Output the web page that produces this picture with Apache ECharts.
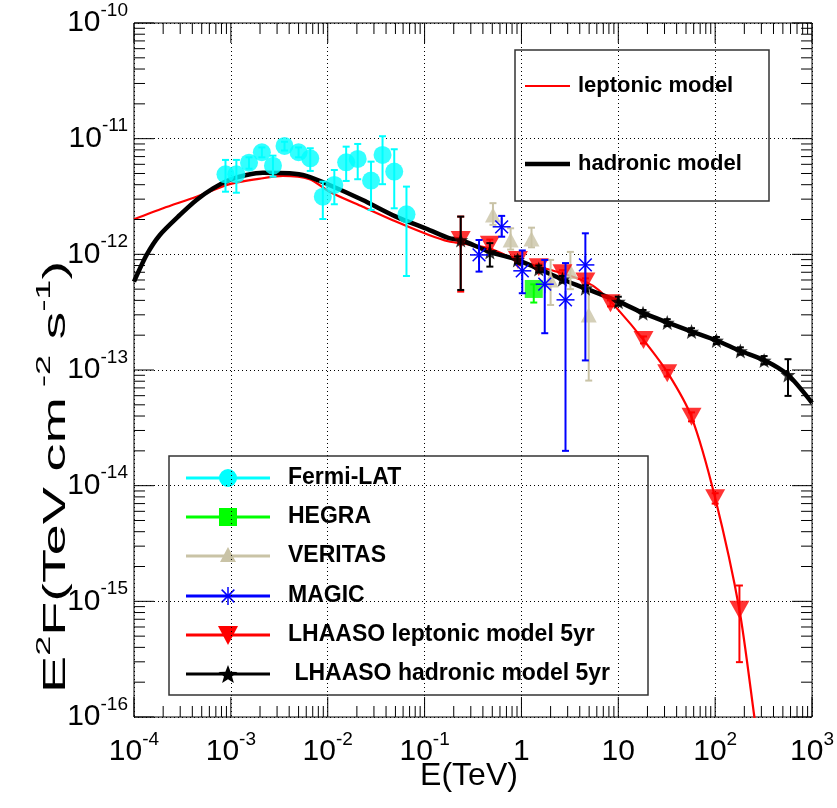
<!DOCTYPE html>
<html><head><meta charset="utf-8">
<script src="https://cdn.jsdelivr.net/npm/echarts@6/dist/echarts.min.js"></script>
<style>html,body{margin:0;padding:0;background:#fff}#c{width:837px;height:808px}</style>
</head><body><div id="c"></div>
<script>
// ---------- data (E in TeV, E^2F in TeV cm^-2 s^-1) ----------
const fermiE  = [8.8e-4, 1.14e-3, 1.54e-3, 2.09e-3, 2.72e-3, 3.58e-3, 5.0e-3, 6.6e-3, 8.9e-3, 1.17e-2, 1.55e-2, 2.04e-2, 2.8e-2, 3.68e-2, 4.86e-2, 6.5e-2];
const fermiF  = [4.92e-12, 4.92e-12, 6.2e-12, 7.63e-12, 5.84e-12, 8.65e-12, 7.63e-12, 6.77e-12, 3.15e-12, 3.98e-12, 6.25e-12, 6.68e-12, 4.34e-12, 7.23e-12, 5.19e-12, 2.22e-12];
const fermiHi = [6.55e-12, 6.55e-12, 6.9e-12, 8.4e-12, 7.13e-12, 9.4e-12, 8.4e-12, 8.26e-12, 4.25e-12, 5.36e-12, 8.53e-12, 9.0e-12, 6.33e-12, 1.05e-11, 8.1e-12, 3.85e-12];
const fermiLo = [3.48e-12, 3.41e-12, 5.5e-12, 6.9e-12, 4.69e-12, 7.9e-12, 6.9e-12, 5.26e-12, 2.02e-12, 2.71e-12, 4.31e-12, 4.46e-12, 2.42e-12, 4.04e-12, 2.50e-12, 6.5e-13];

const hegraE  = [1.34];
const hegraF  = [5.02e-13];
const hegraHi = [5.5e-13];
const hegraLo = [3.83e-13];

const veritasE  = [0.508, 0.773, 1.27, 2.0, 3.2, 4.95];
const veritasF  = [2.19e-12, 1.33e-12, 1.36e-12, 6.0e-13, 7.1e-13, 2.99e-13];
const veritasHi = [2.77e-12, 1.68e-12, 1.7e-12, 8.95e-13, 1.05e-12, 5.26e-13];
const veritasLo = [1.8e-12, 1.1e-12, 1.15e-12, 3.65e-13, 5.0e-13, 8.1e-14];

const magicE  = [0.365, 0.625, 1.02, 1.74, 2.85, 4.57];
const magicF  = [9.88e-13, 1.73e-12, 7.2e-13, 5.52e-13, 4.04e-13, 8.1e-13];
const magicHi = [1.33e-12, 2.15e-12, 1.08e-12, 8.95e-13, 8.4e-13, 1.52e-12];
const magicLo = [7.09e-13, 1.42e-12, 4.61e-13, 2.08e-13, 2.0e-14, 1.21e-13];

const lhLepE  = [0.236, 0.472, 0.92, 1.51, 2.65, 4.57, 8.3, 18.2, 32, 57, 100, 178];
const lhLepF  = [1.33e-12, 1.21e-12, 8.95e-13, 7.74e-13, 6.87e-13, 5.81e-13, 3.78e-13, 1.82e-13, 9.38e-14, 3.95e-14, 7.8e-15, 8.45e-16];
const lhLepHi = [2.12e-12, 1.34e-12, 9.6e-13, 8.2e-13, 7.3e-13, 6.2e-13, 4.0e-13, 1.95e-13, 1.0e-13, 4.3e-14, 8.6e-15, 1.37e-15];
const lhLepLo = [4.76e-13, 1.1e-12, 8.4e-13, 7.3e-13, 6.5e-13, 5.4e-13, 3.55e-13, 1.7e-13, 8.8e-14, 3.6e-14, 7.0e-15, 2.98e-16];

const lhHadE  = [0.236, 0.472, 0.91, 1.51, 2.65, 4.57, 10.0, 18, 32, 57, 103, 182, 320, 565];
const lhHadF  = [1.33e-12, 1.05e-12, 8.95e-13, 7.48e-13, 6.09e-13, 5.09e-13, 3.9e-13, 3.1e-13, 2.57e-13, 2.15e-13, 1.80e-13, 1.46e-13, 1.21e-13, 9.07e-14];
const lhHadHi = [2.12e-12, 1.25e-12, 9.6e-13, 8.0e-13, 6.5e-13, 5.4e-13, 4.3e-13, 3.3e-13, 2.75e-13, 2.3e-13, 1.93e-13, 1.57e-13, 1.32e-13, 1.24e-13];
const lhHadLo = [4.92e-13, 7.83e-13, 8.3e-13, 7.0e-13, 5.7e-13, 4.8e-13, 3.6e-13, 2.9e-13, 2.4e-13, 2.0e-13, 1.68e-13, 1.36e-13, 1.12e-13, 5.97e-14];

const lepModelE = [1e-4, 2.0e-4, 4.42e-4, 9.7e-4, 2.14e-3, 3.44e-3, 6.49e-3, 1.04e-2, 2.30e-2, 5.06e-2, 0.111, 0.179, 0.236, 0.472, 1.0, 2.6, 4.57, 6.27, 10, 18.2, 32.4, 56.9, 100, 178, 254, 282];
const lepModelF = [2.01e-12, 2.5e-12, 3.15e-12, 4.05e-12, 4.55e-12, 4.76e-12, 4.46e-12, 3.48e-12, 2.58e-12, 1.92e-12, 1.47e-12, 1.29e-12, 1.25e-12, 1.12e-12, 8.6e-13, 6.9e-13, 5.8e-13, 4.92e-13, 3.31e-13, 1.82e-13, 9.44e-14, 3.94e-14, 7.83e-15, 8.45e-16, 1.0e-16, 5.2e-17];

const hadModelE = [1e-4, 1.35e-4, 1.85e-4, 2.98e-4, 4.42e-4, 6.55e-4, 9.7e-4, 1.45e-3, 2.14e-3, 4.04e-3, 6.0e-3, 1.04e-2, 2.30e-2, 5.06e-2, 0.111, 0.179, 0.236, 0.473, 0.904, 1.51, 2.62, 4.57, 10.1, 18.2, 32.4, 57.3, 103, 183, 326, 566, 1000];
const hadModelF = [5.81e-13, 9.89e-13, 1.47e-12, 2.19e-12, 2.95e-12, 3.72e-12, 4.40e-12, 4.85e-12, 5.08e-12, 5.02e-12, 4.76e-12, 3.98e-12, 2.95e-12, 2.12e-12, 1.63e-12, 1.38e-12, 1.33e-12, 1.05e-12, 8.95e-13, 7.48e-13, 6.09e-13, 5.09e-13, 3.9e-13, 3.1e-13, 2.57e-13, 2.15e-13, 1.80e-13, 1.46e-13, 1.21e-13, 9.07e-14, 5.2e-14];

const xTickLabels = ['10^-4', '10^-3', '10^-2', '10^-1', '1', '10', '10^2', '10^3'];
const yTickLabels = ['10^-16', '10^-15', '10^-14', '10^-13', '10^-12', '10^-11', '10^-10'];

// ---------- styling ----------
const FF = '"Liberation Sans", Arial, Helvetica, sans-serif';
const C_FERMI = '#00ffff', C_HEGRA = '#00ff00', C_VER = '#c9c3a6', C_MAGIC = '#0000ff', C_RED = '#ff0000', C_BLK = '#000000';
const STAR = 'path://M0,-10L2.6,-3.2L9.5,-3.1L4,1.4L5.9,8.1L0,4.2L-5.9,8.1L-4,1.4L-9.5,-3.1L-2.6,-3.2Z';
const GRID = {left: 134, top: 23, right: 23, bottom: 91};

function pairs(E, F) { return E.map((e, i) => [e, F[i]]); }
function tickText(s) {
  const parts = s.split('^');
  return parts.length === 1 ? '{b|' + parts[0] + '}' : '{b|' + parts[0] + '}{s|' + parts[1] + '}';
}
function labelFor(list, v) {
  const e = Math.round(Math.log10(v));
  const found = list.find(t => (t.indexOf('^') < 0 ? Math.round(Math.log10(+t)) : +t.split('^')[1]) === e);
  return found ? tickText(found) : '';
}
const richTick = {
  b: {fontFamily: FF, fontSize: 30, color: '#000', lineHeight: 44, verticalAlign: 'middle'},
  s: {fontFamily: FF, fontSize: 19, color: '#000', lineHeight: 20, verticalAlign: 'top'}
};

function errSeries(name, E, lo, hi, color, width, cap, z) {
  return {
    type: 'custom', name: name, silent: true, z: z,
    data: E.map((e, i) => [e, lo[i], hi[i]]),
    encode: {x: 0, y: [1, 2]},
    renderItem: function (params, api) {
      const x = api.value(0);
      const p1 = api.coord([x, api.value(2)]);
      const p2 = api.coord([x, api.value(1)]);
      const st = {stroke: color, lineWidth: width};
      return {type: 'group', children: [
        {type: 'line', shape: {x1: p1[0], y1: p1[1], x2: p2[0], y2: p2[1]}, style: st},
        {type: 'line', shape: {x1: p1[0] - cap, y1: p1[1], x2: p1[0] + cap, y2: p1[1]}, style: st},
        {type: 'line', shape: {x1: p2[0] - cap, y1: p2[1], x2: p2[0] + cap, y2: p2[1]}, style: st}
      ]};
    }
  };
}
function asteriskChildren(cx, cy, r, color, w) {
  const d = r * 0.7071;
  const st = {stroke: color, lineWidth: w};
  return [
    {type: 'line', shape: {x1: cx, y1: cy - r, x2: cx, y2: cy + r}, style: st},
    {type: 'line', shape: {x1: cx - r, y1: cy, x2: cx + r, y2: cy}, style: st},
    {type: 'line', shape: {x1: cx - d, y1: cy - d, x2: cx + d, y2: cy + d}, style: st},
    {type: 'line', shape: {x1: cx - d, y1: cy + d, x2: cx + d, y2: cy - d}, style: st}
  ];
}

// tick positions (axis decoration): decades + 2..9 within each decade
const xTickVals = [], yTickVals = [];
for (let d = -4; d <= 3; d++) for (let k = 1; k <= 9; k++) { const v = k * Math.pow(10, d); if (v <= 1000.0001) xTickVals.push([v, k === 1 ? 1 : 0]); }
for (let d = -16; d <= -10; d++) for (let k = 1; k <= 9; k++) { const v = k * Math.pow(10, d); if (d < -10 || k === 1) yTickVals.push([v, k === 1 ? 1 : 0]); }

const ticksX = {
  type: 'custom', silent: true, z: 50,
  data: xTickVals.map(t => [t[0], 1e-13, t[1]]),
  encode: {x: 0, y: 1},
  renderItem: function (params, api) {
    const cs = params.coordSys;
    const x = api.coord([api.value(0), 1e-13])[0];
    const len = api.value(2) ? 20 : 11;
    const st = {stroke: '#000', lineWidth: 1};
    return {type: 'group', children: [
      {type: 'line', shape: {x1: x, y1: cs.y + cs.height, x2: x, y2: cs.y + cs.height - len}, style: st},
      {type: 'line', shape: {x1: x, y1: cs.y, x2: x, y2: cs.y + len}, style: st}
    ]};
  }
};
const ticksY = {
  type: 'custom', silent: true, z: 50,
  data: yTickVals.map(t => [1, t[0], t[1]]),
  encode: {x: 0, y: 1},
  renderItem: function (params, api) {
    const cs = params.coordSys;
    const y = api.coord([1, api.value(1)])[1];
    const len = api.value(2) ? 20 : 11;
    const st = {stroke: '#000', lineWidth: 1};
    return {type: 'group', children: [
      {type: 'line', shape: {x1: cs.x, y1: y, x2: cs.x + len, y2: y}, style: st},
      {type: 'line', shape: {x1: cs.x + cs.width, y1: y, x2: cs.x + cs.width - len, y2: y}, style: st}
    ]};
  }
};

const magicMarks = {
  type: 'custom', name: 'MAGIC', silent: true, z: 12,
  data: pairs(magicE, magicF),
  encode: {x: 0, y: 1},
  renderItem: function (params, api) {
    const p = api.coord([api.value(0), api.value(1)]);
    return {type: 'group', children: asteriskChildren(p[0], p[1], 9, C_MAGIC, 1.5)};
  }
};

// ---------- legends (graphic decoration) ----------
const LG = 22, LG2 = 23;
const legTop = [
  {type: 'rect', shape: {x: 515, y: 50, width: 254, height: 151}, style: {fill: '#fff', stroke: '#333', lineWidth: 1.5}},
  {type: 'line', shape: {x1: 525, y1: 86, x2: 570, y2: 86}, style: {stroke: C_RED, lineWidth: 2}},
  {type: 'text', x: 578, y: 86, style: {text: 'leptonic model', font: 'bold ' + LG + 'px ' + FF, fill: '#000', textVerticalAlign: 'middle'}},
  {type: 'line', shape: {x1: 525, y1: 164, x2: 570, y2: 164}, style: {stroke: C_BLK, lineWidth: 4.5}},
  {type: 'text', x: 578, y: 164, style: {text: 'hadronic model', font: 'bold ' + LG + 'px ' + FF, fill: '#000', textVerticalAlign: 'middle'}}
];
const legRows = [
  {label: 'Fermi-LAT', color: C_FERMI, y: 478},
  {label: 'HEGRA', color: C_HEGRA, y: 517},
  {label: 'VERITAS', color: C_VER, y: 556},
  {label: 'MAGIC', color: C_MAGIC, y: 596},
  {label: 'LHAASO leptonic model 5yr', color: C_RED, y: 635},
  {label: ' LHAASO hadronic model 5yr', color: C_BLK, y: 674}
];
const legBottom = [{type: 'rect', shape: {x: 169, y: 456, width: 479, height: 239}, style: {fill: '#fff', stroke: '#333', lineWidth: 1.5}}];
legRows.forEach((r, i) => {
  legBottom.push({type: 'line', shape: {x1: 186, y1: r.y, x2: 270, y2: r.y}, style: {stroke: r.color, lineWidth: 3}});
  legBottom.push({type: 'text', x: 288, y: r.y, style: {text: r.label, font: 'bold ' + LG2 + 'px ' + FF, fill: '#000', textVerticalAlign: 'middle'}});
});
const mx = 228;
legBottom.push({type: 'circle', shape: {cx: mx, cy: 478, r: 9}, style: {fill: C_FERMI}});
legBottom.push({type: 'rect', shape: {x: mx - 9, y: 517 - 9, width: 18, height: 18}, style: {fill: C_HEGRA}});
legBottom.push({type: 'polygon', shape: {points: [[mx, 547], [mx - 8, 562], [mx + 8, 562]]}, style: {fill: C_VER}});
asteriskChildren(mx, 596, 9, C_MAGIC, 1.5).forEach(c => legBottom.push(c));
legBottom.push({type: 'polygon', shape: {points: [[mx - 10, 626], [mx + 10, 626], [mx, 645]]}, style: {fill: C_RED}});
legBottom.push({type: 'polygon', shape: {points: [[mx, 665], [mx + 2.6, 671.8], [mx + 9.5, 671.9], [mx + 4, 676.4], [mx + 5.9, 683], [mx, 679.2], [mx - 5.9, 683], [mx - 4, 676.4], [mx - 9.5, 671.9], [mx - 2.6, 671.8]]}, style: {fill: C_BLK}});

const chart = echarts.init(document.getElementById('c'));
chart.setOption({
  animation: false,
  backgroundColor: '#fff',
  grid: Object.assign({show: true, borderColor: '#000', borderWidth: 1, backgroundColor: '#fff'}, GRID),
  xAxis: {
    type: 'log', logBase: 10, min: 1e-4, max: 1e3, splitNumber: 7,
    axisLine: {show: false}, axisTick: {show: false},
    splitLine: {show: true, lineStyle: {color: '#000', width: 1, type: [1, 3]}},
    axisLabel: {margin: 13, showMinLabel: true, showMaxLabel: true, hideOverlap: false,
      formatter: v => labelFor(xTickLabels, v), rich: richTick}
  },
  yAxis: {
    type: 'log', logBase: 10, min: 1e-16, max: 1e-10, splitNumber: 6,
    axisLine: {show: false}, axisTick: {show: false},
    splitLine: {show: true, lineStyle: {color: '#000', width: 1, type: [1, 3]}},
    axisLabel: {margin: 6, showMinLabel: true, showMaxLabel: true, hideOverlap: false,
      formatter: v => labelFor(yTickLabels, v), rich: richTick}
  },
  series: [
    {type: 'line', name: 'leptonic model', data: pairs(lepModelE, lepModelF), symbol: 'none', smooth: 0.25, lineStyle: {color: C_RED, width: 2.2}, z: 3, silent: true},
    {type: 'line', name: 'hadronic model', data: pairs(hadModelE, hadModelF), symbol: 'none', smooth: 0.25, lineStyle: {color: C_BLK, width: 4.5}, z: 4, silent: true},
    errSeries('VERITAS err', veritasE, veritasLo, veritasHi, C_VER, 2, 3.5, 5),
    {type: 'scatter', name: 'VERITAS', data: pairs(veritasE, veritasF), symbol: 'triangle', symbolSize: [16, 15], itemStyle: {color: C_VER}, z: 6, silent: true},
    errSeries('LHAASO lep err', lhLepE, lhLepLo, lhLepHi, C_RED, 2, 3.5, 7),
    {type: 'scatter', name: 'LHAASO leptonic model 5yr', data: pairs(lhLepE, lhLepF), symbol: 'triangle', symbolRotate: 180, symbolSize: [20, 18], itemStyle: {color: C_RED}, z: 8, silent: true},
    errSeries('LHAASO had err', lhHadE, lhHadLo, lhHadHi, C_BLK, 2, 3.5, 9),
    {type: 'scatter', name: 'LHAASO hadronic model 5yr', data: pairs(lhHadE, lhHadF), symbol: STAR, symbolSize: 15, itemStyle: {color: C_BLK}, z: 10, silent: true},
    errSeries('HEGRA err', hegraE, hegraLo, hegraHi, C_HEGRA, 2, 3.5, 10),
    {type: 'scatter', name: 'HEGRA', data: pairs(hegraE, hegraF), symbol: 'rect', symbolSize: 18, itemStyle: {color: C_HEGRA}, z: 11, silent: true},
    errSeries('MAGIC err', magicE, magicLo, magicHi, C_MAGIC, 2, 3.5, 12),
    magicMarks,
    errSeries('Fermi err', fermiE, fermiLo, fermiHi, C_FERMI, 2, 3.5, 13),
    {type: 'scatter', name: 'Fermi-LAT', data: pairs(fermiE, fermiF), symbol: 'circle', symbolSize: 18, itemStyle: {color: C_FERMI}, z: 14, silent: true},
    ticksX, ticksY
  ],
  graphic: [
    {type: 'group', z: 100, children: legTop},
    {type: 'group', z: 100, children: legBottom},
    {type: 'text', z: 100, x: 469, y: 776, style: {text: 'E(TeV)', font: '32px ' + FF, fill: '#000', textAlign: 'center', textVerticalAlign: 'middle'}},
    {type: 'text', z: 100, x: 56, y: 477, rotation: Math.PI / 2, scaleX: 1.8,
      style: {text: '{a|E}{s|2}{a|F(TeV cm}{s| -2}{a| s}{s|-1}{a|)}', textAlign: 'center', textVerticalAlign: 'middle',
        rich: {a: {fontFamily: FF, fontSize: 31, fill: '#000', lineHeight: 44, verticalAlign: 'middle'},
               s: {fontFamily: FF, fontSize: 20, fill: '#000', lineHeight: 22, verticalAlign: 'top'}}}}
  ]
});
</script></body></html>
